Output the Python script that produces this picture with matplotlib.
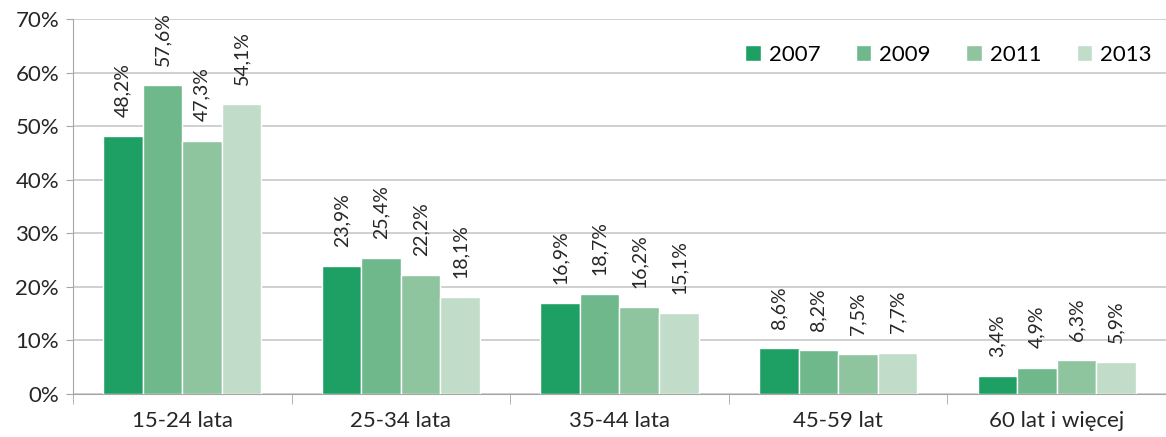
import numpy as np
import matplotlib.pyplot as plt
from matplotlib.ticker import FuncFormatter

plt.rcParams['font.family'] = ['Lato', 'DejaVu Sans']

groups = ['15-24 lata', '25-34 lata', '35-44 lata', '45-59 lat', '60 lat i więcej']
years = ['2007', '2009', '2011', '2013']
v2007 = [48.2, 23.9, 16.9, 8.6, 3.4]
v2009 = [57.6, 25.4, 18.7, 8.2, 4.9]
v2011 = [47.3, 22.2, 16.2, 7.5, 6.3]
v2013 = [54.1, 18.1, 15.1, 7.7, 5.9]
series = [v2007, v2009, v2011, v2013]
colors = ['#1ea064', '#6eb88c', '#8ec59f', '#c1dcc9']

fig = plt.figure(figsize=(11.66, 4.37), dpi=100)
ax = fig.add_axes([0.0626, 0.0984, 0.9374, 0.858])

x = np.arange(len(groups))
w = 0.181
for i, (vals, c, yr) in enumerate(zip(series, colors, years)):
    pos = x + (i - 1.5) * w
    ax.bar(pos, vals, width=w, color=c, edgecolor='white', linewidth=1, label=yr, zorder=3)
    for p, v in zip(pos, vals):
        ax.text(p, v + 3.6, f'{v:.1f}%'.replace('.', ','), rotation=90,
                ha='center', va='bottom', fontsize=14, color='#262626')

ax.set_ylim(0, 70)
ax.set_xlim(-0.5, len(groups) - 0.5)
ax.set_yticks(range(0, 71, 10))
ax.yaxis.set_major_formatter(FuncFormatter(lambda v, _: f'{v:.0f}%'))
ax.set_xticks(x)
ax.set_xticklabels(groups)
ax.set_xticks(np.arange(-0.5, len(groups)), minor=True)
ax.tick_params(axis='x', which='major', length=0, pad=12, labelsize=16, colors='#262626')
ax.tick_params(axis='x', which='minor', length=7, color='#a6a6a6')
ax.tick_params(axis='y', length=5, color='#a6a6a6', labelsize=16, labelcolor='#262626', pad=5)
ax.grid(axis='y', color='#c8c8c8', linewidth=1.2, zorder=0)
for s in ['top', 'right']:
    ax.spines[s].set_visible(False)
ax.spines['left'].set_color('#a6a6a6')
ax.spines['bottom'].set_color('#a6a6a6')

ax.legend(loc='upper right', bbox_to_anchor=(1.005, 0.985), ncol=4, frameon=False,
          fontsize=16, handlelength=0.7, handleheight=0.7, columnspacing=1.6,
          handletextpad=0.35)

fig.savefig('out.png', dpi=100)
